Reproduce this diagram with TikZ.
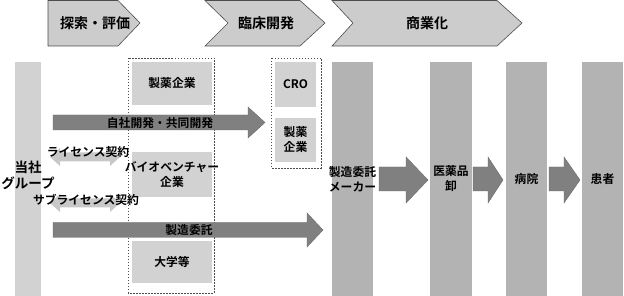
\documentclass[tikz,border=0pt]{standalone}
\usepackage{fontspec}
\setmainfont{Noto Sans CJK JP}[BoldFont={* Bold}]
\usepackage{xcolor}
\definecolor{phasegray}{HTML}{CCCCCC}
\definecolor{edgegray}{HTML}{4D4D4D}
\definecolor{boxgray}{HTML}{D2D2D2}
\definecolor{colgray}{HTML}{B3B3B3}
\definecolor{arrowgray}{HTML}{808080}
\definecolor{arrowedge}{HTML}{6A6A6A}
\definecolor{duogray}{HTML}{C8C8C8}

\begin{document}
\begin{tikzpicture}[x=1pt,y=-1pt,
  phase/.style={fill=phasegray,draw=edgegray,line width=0.6pt},
  phasetxt/.style={font=\fontsize{14}{16}\selectfont\bfseries,inner sep=0pt},
  lightbox/.style={fill=boxgray,inner sep=0pt},
  column/.style={fill=colgray,inner sep=0pt},
  bigarrow/.style={fill=arrowgray,draw=arrowedge,line width=0.4pt},
  duoarrow/.style={fill=duogray},
  grpbox/.style={draw=edgegray,line width=0.8pt,dash pattern=on 1.5pt off 1.5pt},
  txt/.style={font=\fontsize{11.8}{15}\selectfont\bfseries,align=center,inner sep=0pt}
]
\useasboundingbox (0,0) rectangle (624,296);

% Phases at the top
\draw[phase] (48,0.5) -- (118,0.5) -- (140,23) -- (118,46) -- (48,46) -- cycle;
\draw[phase] (205,0.5) -- (300,0.5) -- (325,23) -- (300,46) -- (205,46) -- (228,23) -- cycle;
\draw[phase] (332,0.5) -- (497,0.5) -- (522,23) -- (497,46) -- (332,46) -- (353,23) -- cycle;
\node[phasetxt] (explore) at (95,23) {探索・評価};
\node[phasetxt] (clinical) at (266,23) {臨床開発};
\node[phasetxt] (commercial) at (427,23) {商業化};

% Our group bar
\node[lightbox,minimum width=26pt,minimum height=234pt] (group) at (28,179) {};

% Partners (discovery)
\node[lightbox,minimum width=80pt,minimum height=43pt] (pharmaA) at (172,83.5) {};
\node[lightbox,minimum width=80pt,minimum height=45pt] (venture) at (172,174.5) {};
\node[lightbox,minimum width=80pt,minimum height=42pt] (univ) at (172,262) {};
\draw[grpbox] (128,58) rectangle (214,293);

% Partners (clinical)
\node[lightbox,minimum width=41pt,minimum height=45pt] (cro) at (295.5,84.5) {};
\node[lightbox,minimum width=41pt,minimum height=44pt] (pharmaB) at (295.5,140) {};
\draw[grpbox] (271,58) rectangle (321,168);

% Distribution columns
\node[column,minimum width=41pt,minimum height=234pt] (cmo) at (352.5,179) {};
\node[column,minimum width=42pt,minimum height=234pt] (wholesaler) at (451,179) {};
\node[column,minimum width=41pt,minimum height=234pt] (hospital) at (526.5,179) {};
\node[column,minimum width=41pt,minimum height=234pt] (patient) at (602.5,179) {};

% Block arrows
\draw[bigarrow] (53,115) -- (248,115) -- (248,107) -- (265,122.5) -- (248,138) -- (248,130) -- (53,130) -- cycle;
\draw[bigarrow] (53,222.5) -- (307,222.5) -- (307,213) -- (323,230) -- (307,247) -- (307,237.5) -- (53,237.5) -- cycle;
\draw[bigarrow] (379,167) -- (406,167) -- (406,157) -- (428,180) -- (406,203) -- (406,191) -- (379,191) -- cycle;
\draw[bigarrow] (473,167) -- (488,167) -- (488,157) -- (503,180) -- (488,203) -- (488,191) -- (473,191) -- cycle;
\draw[bigarrow] (549,167) -- (564,167) -- (564,157) -- (580,180) -- (564,203) -- (564,191) -- (549,191) -- cycle;

% License arrows
\fill[duoarrow] (50,157) -- (60,148) -- (60,152.5) -- (110,152.5) -- (110,148) -- (120,157) -- (110,166) -- (110,161.5) -- (60,161.5) -- (60,166) -- cycle;
\fill[duoarrow] (50,203) -- (60,194) -- (60,198.5) -- (110,198.5) -- (110,194) -- (120,203) -- (110,212) -- (110,207.5) -- (60,207.5) -- (60,212) -- cycle;

% Labels
\node[txt,font=\fontsize{13.5}{16}\selectfont\bfseries] at ([yshift=3.5pt]group.center) {当社\\グループ};
\node[txt] at (pharmaA) {製薬企業};
\node[txt] at (venture) {バイオベンチャー\\企業};
\node[txt] at (univ) {大学等};
\node[txt] at (cro) {CRO};
\node[txt] at (pharmaB) {製薬\\企業};
\node[txt] at (cmo) {製造委託\\メーカー};
\node[txt] at (wholesaler) {医薬品\\卸};
\node[txt] at (hospital) {病院};
\node[txt] at (patient) {患者};
\node[txt] at (160,123) {自社開発・共同開発};
\node[txt] at (189,230) {製造委託};
\node[txt] at (88,152) {ライセンス契約};
\node[txt] at (86,200) {サブライセンス契約};
\end{tikzpicture}
\end{document}
